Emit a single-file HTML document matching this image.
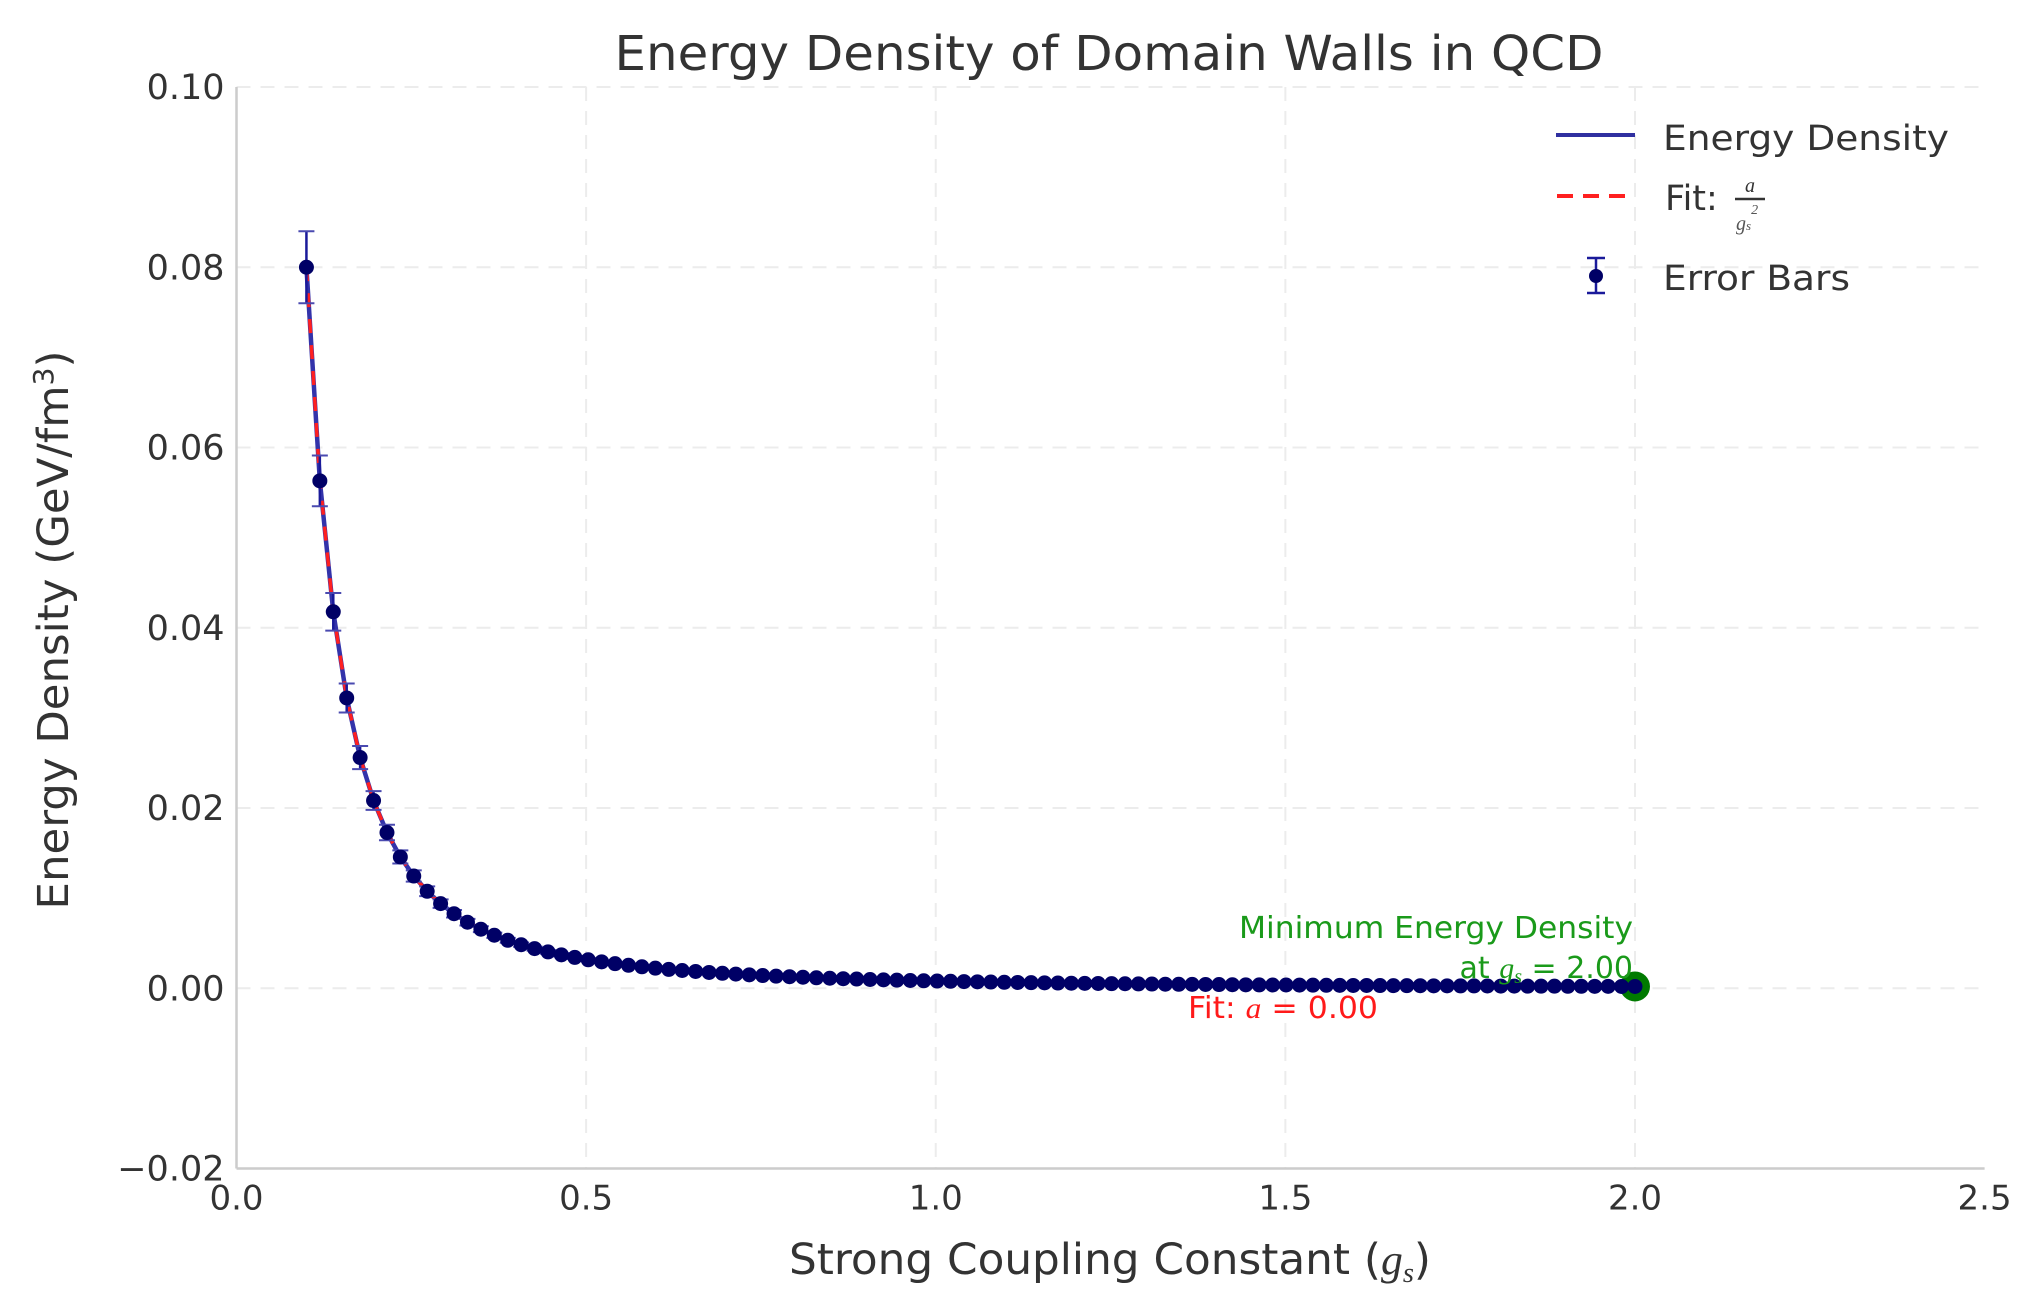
<!DOCTYPE html>
<html><head><meta charset="utf-8">
<style>
html,body{margin:0;padding:0;background:#fff;}
svg{display:block;font-family:"DejaVu Sans","Liberation Sans",sans-serif;}
</style></head>
<body>
<svg id="chart" width="2038" height="1314" viewBox="0 0 2038 1314" xmlns="http://www.w3.org/2000/svg">
<rect width="2038" height="1314" fill="#fff"/>
<g id="grid"></g>
<g id="axes"></g>
<g id="series"></g>
<text x="1109" y="70" font-size="48" fill="#333" text-anchor="middle" textLength="989" lengthAdjust="spacingAndGlyphs">Energy Density of Domain Walls in QCD</text>
<text x="1110" y="1274" font-size="43" fill="#333" text-anchor="middle" textLength="642" lengthAdjust="spacingAndGlyphs">Strong Coupling Constant (<tspan font-family="Liberation Serif,serif" font-style="italic">g<tspan font-size="28" dy="8">s</tspan></tspan><tspan dy="-8">)</tspan></text>
<text transform="translate(68,630) rotate(-90)" font-size="43" fill="#333" text-anchor="middle" textLength="559" lengthAdjust="spacingAndGlyphs">Energy Density (GeV/fm<tspan font-size="28" dy="-15">3</tspan><tspan dy="15">)</tspan></text>
<g>
  <line x1="1556" y1="135" x2="1635" y2="135" stroke="#3030a0" stroke-width="4"/>
  <text x="1663" y="150" font-size="35" fill="#333" textLength="286" lengthAdjust="spacingAndGlyphs">Energy Density</text>
  <line x1="1557" y1="196" x2="1635" y2="196" stroke="#ff2020" stroke-width="4" stroke-dasharray="16,10"/>
  <text x="1665" y="210" font-size="35" fill="#333">Fit:</text>
  <text x="1745" y="192" font-size="20" font-style="italic" font-family="Liberation Serif,serif" fill="#333">a</text>
  <line x1="1735" y1="199" x2="1765" y2="199" stroke="#333" stroke-width="2.5"/>
  <text x="1736" y="230" font-size="20" font-style="italic" font-family="Liberation Serif,serif" fill="#555">g<tspan font-size="13">s</tspan><tspan font-size="14" dy="-16">2</tspan></text>
  <line x1="1596" y1="258" x2="1596" y2="293" stroke="#1a1a9a" stroke-width="2.5"/>
  <line x1="1587" y1="258" x2="1605" y2="258" stroke="#1a1a9a" stroke-width="2.5"/>
  <line x1="1587" y1="293" x2="1605" y2="293" stroke="#1a1a9a" stroke-width="2.5"/>
  <circle cx="1596" cy="276" r="7" fill="#000066"/>
  <text x="1663" y="290" font-size="35" fill="#333" textLength="187" lengthAdjust="spacingAndGlyphs">Error Bars</text>
</g>
<text x="1633" y="938" font-size="30" fill="#1a9a1a" text-anchor="end" textLength="394" lengthAdjust="spacingAndGlyphs">Minimum Energy Density</text>
<text x="1633" y="978" font-size="30" fill="#1a9a1a" text-anchor="end">at <tspan font-family="Liberation Serif,serif" font-style="italic">g<tspan font-size="20" dy="5">s</tspan></tspan><tspan dy="-5"> = 2.00</tspan></text>
<text x="1188" y="1018" font-size="30" fill="#ff1a1a" textLength="190" lengthAdjust="spacingAndGlyphs">Fit: <tspan font-family="Liberation Serif,serif" font-style="italic">a</tspan> = 0.00</text>
</svg>
<script>
const xTicks = [0.0, 0.5, 1.0, 1.5, 2.0, 2.5];
const xTickLabels = ["0.0", "0.5", "1.0", "1.5", "2.0", "2.5"];
const yTicks = [-0.02, 0.00, 0.02, 0.04, 0.06, 0.08, 0.10];
const yTickLabels = ["\u22120.02", "0.00", "0.02", "0.04", "0.06", "0.08", "0.10"];
const gs = [0.1000,0.1192,0.1384,0.1576,0.1768,0.1960,0.2152,0.2343,0.2535,0.2727,0.2919,0.3111,0.3303,0.3495,0.3687,0.3879,0.4071,0.4263,0.4455,0.4646,0.4838,0.5030,0.5222,0.5414,0.5606,0.5798,0.5990,0.6182,0.6374,0.6566,0.6758,0.6949,0.7141,0.7333,0.7525,0.7717,0.7909,0.8101,0.8293,0.8485,0.8677,0.8869,0.9061,0.9253,0.9444,0.9636,0.9828,1.0020,1.0212,1.0404,1.0596,1.0788,1.0980,1.1172,1.1364,1.1556,1.1747,1.1939,1.2131,1.2323,1.2515,1.2707,1.2899,1.3091,1.3283,1.3475,1.3667,1.3859,1.4051,1.4242,1.4434,1.4626,1.4818,1.5010,1.5202,1.5394,1.5586,1.5778,1.5970,1.6162,1.6354,1.6545,1.6737,1.6929,1.7121,1.7313,1.7505,1.7697,1.7889,1.8081,1.8273,1.8465,1.8657,1.8848,1.9040,1.9232,1.9424,1.9616,1.9808,2.0000];
const energy = [0.08000,0.05630,0.04177,0.03221,0.02560,0.02083,0.01728,0.01457,0.01245,0.01076,0.00939,0.00827,0.00733,0.00655,0.00588,0.00532,0.00483,0.00440,0.00403,0.00371,0.00342,0.00316,0.00293,0.00273,0.00255,0.00238,0.00223,0.00209,0.00197,0.00186,0.00175,0.00166,0.00157,0.00149,0.00141,0.00134,0.00128,0.00122,0.00116,0.00111,0.00106,0.00102,0.00097,0.00093,0.00090,0.00086,0.00083,0.00080,0.00077,0.00074,0.00071,0.00069,0.00066,0.00064,0.00062,0.00060,0.00058,0.00056,0.00054,0.00053,0.00051,0.00050,0.00048,0.00047,0.00045,0.00044,0.00043,0.00042,0.00041,0.00039,0.00038,0.00037,0.00036,0.00036,0.00035,0.00034,0.00033,0.00032,0.00031,0.00031,0.00030,0.00029,0.00029,0.00028,0.00027,0.00027,0.00026,0.00026,0.00025,0.00024,0.00024,0.00023,0.00023,0.00023,0.00022,0.00022,0.00021,0.00021,0.00020,0.00020];
const errorFraction = 0.05;
const minPoint = [2.0, 0.0002];

const NS = "http://www.w3.org/2000/svg";
const L = 236.5, R = 1984.6, T = 87, B = 1168.5;
const xMin = 0, xMax = 2.5, yMin = -0.02, yMax = 0.10;
function sx(v){ return L + (v - xMin) / (xMax - xMin) * (R - L); }
function sy(v){ return B - (v - yMin) / (yMax - yMin) * (B - T); }
function mk(tag, attrs, parent){
  const e = document.createElementNS(NS, tag);
  for (const k in attrs) e.setAttribute(k, attrs[k]);
  parent.appendChild(e);
  return e;
}
const grid = document.getElementById('grid');
const axes = document.getElementById('axes');
const series = document.getElementById('series');

xTicks.forEach((t, i) => {
  if (t > xMin && t < xMax) {
    const g = mk('line', {x1: sx(t), x2: sx(t), y1: T, y2: B, stroke: '#ececec', 'stroke-width': 2, 'stroke-dasharray': '14,10'}, grid);
    
    
  }
  const lb = mk('text', {x: sx(t), y: B + 41, 'font-size': 34, fill: '#333', 'text-anchor': 'middle'}, axes);
  lb.textContent = xTickLabels[i];
  
  
});
yTicks.forEach((t, i) => {
  if (t > yMin) {
    const g = mk('line', {x1: L, x2: R, y1: sy(t), y2: sy(t), stroke: '#ececec', 'stroke-width': 2, 'stroke-dasharray': '14,10'}, grid);
    
    
  }
  const lb = mk('text', {x: L - 12, y: sy(t) + 12, 'font-size': 35, fill: '#333', 'text-anchor': 'end'}, axes);
  lb.textContent = yTickLabels[i];
  
  
});
const yAx = mk('line', {x1: L, x2: L, y1: T, y2: B, stroke: '#cccccc', 'stroke-width': 2.5}, axes);


const xAx = mk('line', {x1: L, x2: R, y1: B, y2: B, stroke: '#cccccc', 'stroke-width': 2.5}, axes);



const pts = gs.map((g, i) => sx(g).toFixed(2) + ',' + sy(energy[i]).toFixed(2)).join(' ');
const line = mk('polyline', {points: pts, fill: 'none', stroke: '#3333aa', 'stroke-width': 4.5, 'stroke-linejoin': 'round'}, series);


const fit = mk('polyline', {points: pts, fill: 'none', stroke: '#ff2020', 'stroke-width': 3.5, 'stroke-dasharray': '14,12'}, series);



gs.forEach((g, i) => {
  const x = sx(g), e = energy[i] * errorFraction;
  const y1 = sy(energy[i] + e), y2 = sy(energy[i] - e);
  const eb = mk('line', {x1: x, x2: x, y1: y1, y2: y2, stroke: '#1a1a9a', 'stroke-width': 2.5}, series);
  
  
  [y1, y2].forEach(yy => {
    const c = mk('line', {x1: x - 8, x2: x + 8, y1: yy, y2: yy, stroke: '#4a4ab0', 'stroke-width': 2}, series);
    
    
  });
});
const minDot = mk('circle', {cx: sx(minPoint[0]), cy: sy(minPoint[1]), r: 15, fill: '#007a00'}, series);


gs.forEach((g, i) => {
  const m = mk('circle', {cx: sx(g), cy: sy(energy[i]), r: 7.5, fill: '#000066'}, series);
  
  
});
</script>
</body></html>
